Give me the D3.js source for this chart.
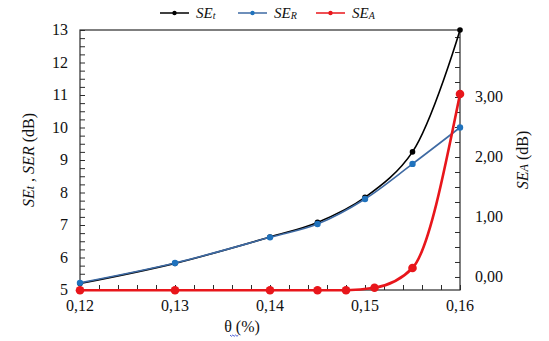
<!DOCTYPE html>
<html><head><meta charset="utf-8"><script src="https://cdn.jsdelivr.net/npm/d3@7"></script></head>
<body style="margin:0">
<script>
// data
const thetaT = [0.12, 0.13, 0.14, 0.145, 0.15, 0.155, 0.16];
const seT = [5.2, 5.82, 6.63, 7.08, 7.85, 9.25, 13.0];
const seR = [5.22, 5.83, 6.62, 7.03, 7.8, 8.88, 10.0];
const thetaA = [0.12, 0.13, 0.14, 0.145, 0.148, 0.151, 0.155, 0.16];
const seA = [-0.22, -0.22, -0.22, -0.22, -0.22, -0.18, 0.15, 3.05];
const xTicks = [0.12, 0.13, 0.14, 0.15, 0.16];
const leftTicks = [5, 6, 7, 8, 9, 10, 11, 12, 13];
const rightTicks = [0, 1, 2, 3];

const chartSize = { width: 549, height: 341 };
const margin = { left: 80, right: 89, top: 30, bottom: 51 };
const width = chartSize.width - (margin.left + margin.right);
const height = chartSize.height - (margin.top + margin.bottom);

const x = d3.scaleLinear().domain([0.12, 0.16]).range([0, width]);
const y = d3.scaleLinear().domain([5, 13]).range([height, 0]);
const y2 = d3.scaleLinear().domain([-0.217, 4.117]).range([height, 0]);

const comma = d => d3.format(".2f")(d).replace(".", ",");

const svg = d3.select("body").append("svg")
  .attr("width", chartSize.width)
  .attr("height", chartSize.height);

const g = svg.append("g")
  .attr("transform", `translate(${margin.left}, ${margin.top})`);

const axisColor = "#2b2b2b";

// text helper: serif face set on each text
const txt = (parent, size) => parent.append("text")
  .attr("font-size", size)
  .style("font-family", '"Liberation Serif"')
  .attr("fill", "#111");

// minor ticks
const xMinor = d3.range(0.12, 0.1601, 0.002);
const yMinor = d3.range(5, 13.001, 0.25);
const y2Minor = d3.range(0, 4.1, 0.25);

g.append("g")
  .attr("transform", `translate(0, ${height})`)
  .call(d3.axisBottom(x).tickValues(xMinor).tickSize(-5).tickFormat(""))
  .call(a => a.select(".domain").remove());
g.append("g")
  .call(d3.axisLeft(y).tickValues(yMinor).tickSize(-5).tickFormat(""))
  .call(a => a.select(".domain").remove());
g.append("g")
  .attr("transform", `translate(${width}, 0)`)
  .call(d3.axisRight(y2).tickValues(y2Minor).tickSize(-5).tickFormat(""))
  .call(a => a.select(".domain").remove());
g.selectAll(".tick line").attr("stroke", axisColor);

// frame
g.append("rect")
  .attr("width", width).attr("height", height)
  .attr("fill", "none").attr("stroke", axisColor).attr("stroke-width", 1.2);

// tick labels
xTicks.forEach(d => txt(g, 16).attr("x", x(d)).attr("y", height + 21)
  .attr("text-anchor", "middle").text(comma(d)));
leftTicks.forEach(d => txt(g, 16).attr("x", -12).attr("y", y(d) + 5)
  .attr("text-anchor", "end").text(d));
rightTicks.forEach(d => txt(g, 16).attr("x", width + 15).attr("y", y2(d) + 5)
  .text(comma(d)));

// axis titles
const lt = txt(g, 16)
  .attr("transform", `translate(-46, ${height / 2}) rotate(-90)`)
  .attr("text-anchor", "middle");
lt.append("tspan").attr("font-style", "italic").text("SE");
lt.append("tspan").attr("font-style", "italic").attr("font-size", 12).text("t");
lt.append("tspan").text(" , ");
lt.append("tspan").attr("font-style", "italic").text("SER");
lt.append("tspan").text(" (dB)");

const rt = txt(g, 16)
  .attr("transform", `translate(${width + 68}, ${height / 2}) rotate(-90)`)
  .attr("text-anchor", "middle");
rt.append("tspan").attr("font-style", "italic").text("SE");
rt.append("tspan").attr("font-style", "italic").attr("font-size", 12).text("A");
rt.append("tspan").text(" (dB)");

txt(g, 16).attr("x", x(0.14) - 28).attr("y", height + 42)
  .attr("text-anchor", "middle").text("θ (%)");
g.append("path")
  .attr("d", () => {
    const x0 = x(0.14) - 40, y0 = height + 45;
    let p = `M${x0},${y0}`;
    for (let i = 1; i <= 6; i++) p += ` L${x0 + i * 1.4},${y0 + (i % 2 ? 1.3 : 0)}`;
    return p;
  })
  .attr("fill", "none").attr("stroke", "#3b4fd0").attr("stroke-width", 0.9);

// series
const series = [
  { name: "t", xs: thetaT, ys: seT, sc: y, line: "#000", dot: "#000", lw: 1.6, r: 2.8, curve: d3.curveCatmullRom },
  { name: "R", xs: thetaT, ys: seR, sc: y, line: "#3e6aa3", dot: "#1f72bd", lw: 1.6, r: 3.2, curve: d3.curveCatmullRom },
  { name: "A", xs: thetaA, ys: seA, sc: y2, line: "#e8161b", dot: "#e8161b", lw: 2.6, r: 4.3, curve: d3.curveMonotoneX }
];

series.forEach(s => {
  const pts = s.xs.map((v, i) => [v, s.ys[i]]);
  const line = d3.line().x(d => x(d[0])).y(d => s.sc(d[1])).curve(s.curve);
  g.append("path").datum(pts)
    .attr("d", line).attr("fill", "none")
    .attr("stroke", s.line).attr("stroke-width", s.lw);
  g.selectAll(".dot-" + s.name).data(pts).enter().append("circle")
    .attr("cx", d => x(d[0])).attr("cy", d => s.sc(d[1]))
    .attr("r", s.r).attr("fill", s.dot);
});

// legend
const legend = svg.append("g").attr("transform", "translate(160, 13)");
series.forEach((s, i) => {
  const lg = legend.append("g").attr("transform", `translate(${i * 78}, 0)`);
  lg.append("line").attr("x1", 0).attr("x2", 29)
    .attr("stroke", s.line).attr("stroke-width", Math.min(s.lw, 1.5));
  lg.append("circle").attr("cx", 14.5).attr("r", 2.2).attr("fill", s.dot);
  const t = txt(lg, 15).attr("x", 36).attr("y", 5);
  t.append("tspan").attr("font-style", "italic").text("SE");
  t.append("tspan").attr("font-style", "italic").attr("font-size", 10).attr("dy", 1).text(s.name);
});
</script>
</body></html>
